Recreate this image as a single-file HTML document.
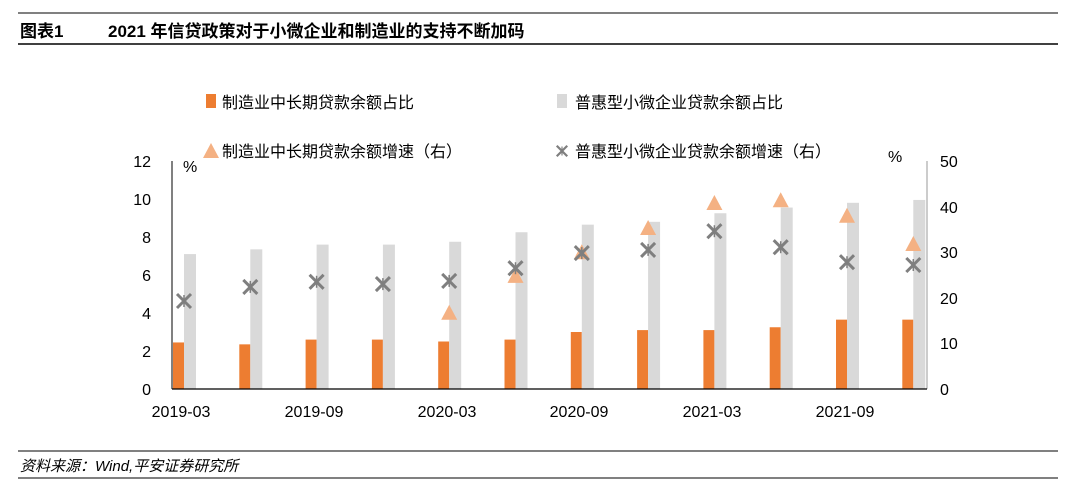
<!DOCTYPE html><html><head><meta charset="utf-8"><style>body{margin:0;background:#fff}svg{display:block}text{font-family:"Liberation Sans","Noto Sans CJK SC",sans-serif}</style></head><body>
<svg width="1080" height="491" xmlns="http://www.w3.org/2000/svg" xmlns:xlink="http://www.w3.org/1999/xlink">
<defs>
<g id="st" stroke="#7F7F7F" stroke-width="3"><line x1="-7" y1="-7" x2="7" y2="7"/><line x1="-7" y1="7" x2="7" y2="-7"/><line x1="0" y1="-6" x2="0" y2="6" stroke-width="1.5"/></g>
<polygon id="tr" points="-8,7 8,7 0,-8" fill="#F4B183"/>
</defs>
<line x1="18" y1="13" x2="1058" y2="13" stroke="#000" stroke-width="1"/>
<text x="20" y="37" font-size="17" font-weight="bold">图表1</text>
<text x="108" y="37" font-size="17" font-weight="bold">2021 年信贷政策对于小微企业和制造业的支持不断加码</text>
<line x1="18" y1="44" x2="1058" y2="44" stroke="#000" stroke-width="1.5"/>
<rect x="206" y="94" width="10" height="14" fill="#ED7D31"/>
<text x="222" y="108" font-size="16">制造业中长期贷款余额占比</text>
<rect x="557" y="94" width="10" height="14" fill="#D9D9D9"/>
<text x="575" y="108" font-size="16">普惠型小微企业贷款余额占比</text>
<use xlink:href="#tr" x="211" y="151"/>
<text x="222" y="157" font-size="16">制造业中长期贷款余额增速（右）</text>
<use xlink:href="#st" transform="translate(562,151) scale(0.75)"/>
<text x="575" y="157" font-size="16">普惠型小微企业贷款余额增速（右）</text>
<g font-size="16" text-anchor="end">
<text x="151" y="167">12</text><text x="151" y="205">10</text><text x="151" y="243">8</text><text x="151" y="281">6</text><text x="151" y="319">4</text><text x="151" y="357">2</text><text x="151" y="395">0</text></g>
<text x="183" y="172" font-size="16">%</text><text x="888" y="162" font-size="16">%</text>
<g font-size="16"><text x="940" y="167">50</text><text x="940" y="213">40</text><text x="940" y="258">30</text><text x="940" y="304">20</text><text x="940" y="349">10</text><text x="940" y="395">0</text></g>
<g fill="#ED7D31">
<rect x="173" y="342.45" width="11" height="46.55"/>
<rect x="239.3" y="344.35" width="11" height="44.65"/>
<rect x="305.6" y="339.6" width="11" height="49.4"/>
<rect x="371.9" y="339.6" width="11" height="49.4"/>
<rect x="438.2" y="341.5" width="11" height="47.5"/>
<rect x="504.5" y="339.6" width="11" height="49.4"/>
<rect x="570.8" y="332" width="11" height="57"/>
<rect x="637.1" y="330.1" width="11" height="58.9"/>
<rect x="703.4" y="330.1" width="11" height="58.9"/>
<rect x="769.7" y="327.25" width="11" height="61.75"/>
<rect x="836" y="319.65" width="11" height="69.35"/>
<rect x="902.3" y="319.65" width="11" height="69.35"/>
</g>
<g fill="#D9D9D9">
<rect x="184" y="254.1" width="12" height="134.9"/>
<rect x="250.3" y="249.35" width="12" height="139.65"/>
<rect x="316.6" y="244.6" width="12" height="144.4"/>
<rect x="382.9" y="244.6" width="12" height="144.4"/>
<rect x="449.2" y="241.75" width="12" height="147.25"/>
<rect x="515.5" y="232.25" width="12" height="156.75"/>
<rect x="581.8" y="224.65" width="12" height="164.35"/>
<rect x="648.1" y="221.8" width="12" height="167.2"/>
<rect x="714.4" y="213.25" width="12" height="175.75"/>
<rect x="780.7" y="207.55" width="12" height="181.45"/>
<rect x="847" y="202.8" width="12" height="186.2"/>
<rect x="913.3" y="199.95" width="12" height="189.05"/>
</g>
<use xlink:href="#tr" x="449.2" y="312.8"/>
<use xlink:href="#tr" x="515.5" y="275.9"/>
<use xlink:href="#tr" x="581.8" y="252.2"/>
<use xlink:href="#tr" x="648.1" y="228"/>
<use xlink:href="#tr" x="714.4" y="203"/>
<use xlink:href="#tr" x="780.7" y="200.2"/>
<use xlink:href="#tr" x="847" y="215.7"/>
<use xlink:href="#tr" x="913.3" y="244"/>
<use xlink:href="#st" x="184" y="301"/>
<use xlink:href="#st" x="250.3" y="286.9"/>
<use xlink:href="#st" x="316.6" y="281.8"/>
<use xlink:href="#st" x="382.9" y="284.1"/>
<use xlink:href="#st" x="449.2" y="280.9"/>
<use xlink:href="#st" x="515.5" y="268.2"/>
<use xlink:href="#st" x="581.8" y="253.1"/>
<use xlink:href="#st" x="648.1" y="249.9"/>
<use xlink:href="#st" x="714.4" y="231.2"/>
<use xlink:href="#st" x="780.7" y="247.2"/>
<use xlink:href="#st" x="847" y="262.2"/>
<use xlink:href="#st" x="913.3" y="265"/>
<line x1="172" y1="161" x2="172" y2="389" stroke="#000"/>
<line x1="927" y1="161" x2="927" y2="389" stroke="#999"/>
<line x1="172" y1="389" x2="927" y2="389" stroke="#000" stroke-width="1.2"/>
<g font-size="16" text-anchor="middle"><text x="181" y="417">2019-03</text><text x="314" y="417">2019-09</text><text x="447" y="417">2020-03</text><text x="579" y="417">2020-09</text><text x="712" y="417">2021-03</text><text x="845" y="417">2021-09</text></g>
<line x1="18" y1="451" x2="1058" y2="451" stroke="#000"/>
<text x="20" y="471" font-size="15" font-style="italic">资料来源：Wind,平安证券研究所</text>
<line x1="18" y1="478" x2="1058" y2="478" stroke="#000"/>
</svg></body></html>
